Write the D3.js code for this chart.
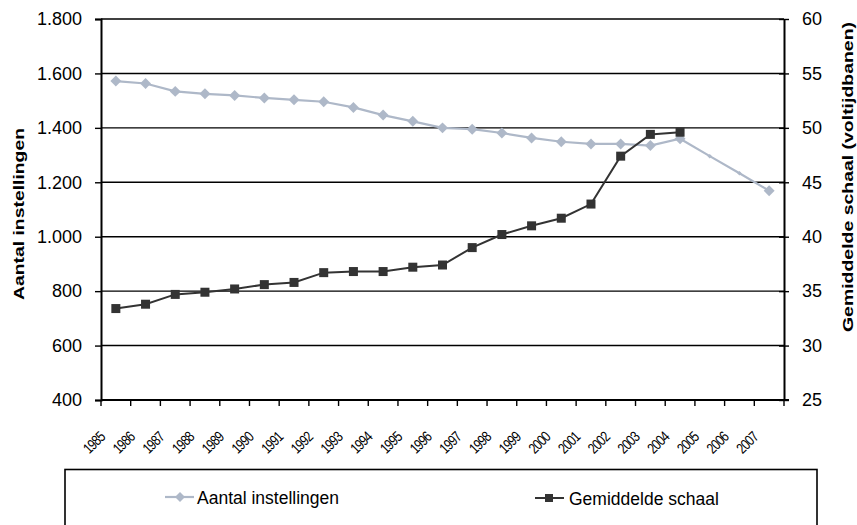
<!DOCTYPE html>
<html>
<head>
<meta charset="utf-8">
<script src="https://cdn.jsdelivr.net/npm/d3@7/dist/d3.min.js"></script>
<style>
  html, body { margin: 0; padding: 0; background: #fff; }
  svg { display: block; font-family: Arial, "Liberation Sans", sans-serif; }
</style>
</head>
<body>
<svg id="chart" width="857" height="525"></svg>
<script>
// Years on the category axis
const years = ["1985","1986","1987","1988","1989","1990","1991","1992","1993","1994","1995","1996",
               "1997","1998","1999","2000","2001","2002","2003","2004","2005","2006","2007"];

// Number of institutions (left axis)
const aantalInstellingen = [1572, 1563, 1534, 1525, 1519, 1510, 1503, 1496, 1475, 1447, 1424, 1400,
                            1395, 1381, 1363, 1349, 1341, 1341, 1335, 1360, 1296, 1233, 1169];

// Average scale in full-time jobs (right axis), available up to 2004
const gemiddeldeSchaal = [33.4, 33.8, 34.7, 34.9, 35.2, 35.6, 35.8, 36.7, 36.8, 36.8, 37.2, 37.4,
                          39.0, 40.2, 41.0, 41.7, 43.0, 47.4, 49.4, 49.6];

// Years drawn as plain line vertices without a full marker
const zonderMarker = ["2005", "2006"];

// Axis ticks
const leftTicks = [400, 600, 800, 1000, 1200, 1400, 1600, 1800];
const rightTicks = [25, 30, 35, 40, 45, 50, 55, 60];

const svg = d3.select("#chart");
const plotL = 101, plotR = 784, plotT = 19, plotB = 400;

const x = d3.scaleBand().domain(years).range([plotL, plotR]);
const yL = d3.scaleLinear().domain([400, 1800]).range([plotB, plotT]);
const yR = d3.scaleLinear().domain([25, 60]).range([plotB, plotT]);
const cx = d => x(d) + x.bandwidth() / 2;

const nl = d3.formatLocale({decimal: ",", thousands: ".", grouping: [3], currency: ["€", ""]});
const fmt = nl.format(",");

// Horizontal gridlines
svg.append("g")
  .selectAll("line")
  .data(leftTicks)
  .join("line")
  .attr("x1", plotL).attr("x2", plotR)
  .attr("y1", d => yL(d)).attr("y2", d => yL(d))
  .attr("stroke", "#000").attr("stroke-width", 1.4);

// Left axis
const gL = svg.append("g").attr("transform", `translate(${plotL},0)`)
  .call(d3.axisLeft(yL).tickValues(leftTicks).tickFormat(fmt).tickSize(6).tickPadding(13));
gL.select(".domain").attr("stroke", "#000").attr("stroke-width", 2);
gL.selectAll(".tick line").attr("stroke", "#000").attr("stroke-width", 1.4);
gL.selectAll(".tick text").attr("font-size", 18).attr("fill", "#000")
  .attr("font-family", "Arial, 'Liberation Sans', sans-serif");

// Right axis
const gR = svg.append("g").attr("transform", `translate(${plotR},0)`)
  .call(d3.axisRight(yR).tickValues(rightTicks).tickSizeInner(5).tickSizeOuter(0).tickPadding(13));
gR.select(".domain").attr("stroke", "#000").attr("stroke-width", 2);
gR.selectAll(".tick line").attr("x1", -5).attr("stroke", "#000").attr("stroke-width", 1.4);
gR.selectAll(".tick text").attr("font-size", 18).attr("fill", "#000")
  .attr("font-family", "Arial, 'Liberation Sans', sans-serif");

// Bottom axis: line, ticks on category boundaries, rotated year labels
const gB = svg.append("g").attr("transform", `translate(0,${plotB})`);
gB.append("line").attr("x1", plotL).attr("x2", plotR + 5).attr("stroke", "#000").attr("stroke-width", 2);
gB.selectAll("line.tk")
  .data(years.map(d => x(d)).concat([plotR]))
  .join("line").attr("class", "tk")
  .attr("x1", d => d).attr("x2", d => d).attr("y1", 0).attr("y2", 6)
  .attr("stroke", "#000").attr("stroke-width", 1.4);
gB.selectAll("text")
  .data(years)
  .join("text")
  .attr("transform", d => `translate(${cx(d) - 10},38) rotate(-45) scale(0.8,1)`)
  .attr("text-anchor", "end")
  .attr("font-size", 15)
  .attr("letter-spacing", -1)
  .text(d => d);

// Line for number of institutions
const grey = "#aeb8c8";
const lineL = d3.line().x((d, i) => cx(years[i])).y(d => yL(d));
svg.append("path").datum(aantalInstellingen)
  .attr("d", lineL).attr("fill", "none").attr("stroke", grey).attr("stroke-width", 2.2);
svg.append("g").selectAll("path")
  .data(aantalInstellingen.map((v, i) => ({year: years[i], v})))
  .join("path")
  .attr("transform", d => `translate(${cx(d.year)},${yL(d.v)}) rotate(45)`)
  .attr("d", d => d3.symbol().type(d3.symbolSquare).size(zonderMarker.includes(d.year) ? 10 : 60)())
  .attr("fill", grey);

// Line for average scale
const dark = "#333333";
const lineR = d3.line().x((d, i) => cx(years[i])).y(d => yR(d));
svg.append("path").datum(gemiddeldeSchaal)
  .attr("d", lineR).attr("fill", "none").attr("stroke", dark).attr("stroke-width", 2);
svg.append("g").selectAll("rect")
  .data(gemiddeldeSchaal.map((v, i) => ({year: years[i], v})))
  .join("rect")
  .attr("x", d => cx(d.year) - 4.5)
  .attr("y", d => yR(d.v) - 4.5)
  .attr("width", 9).attr("height", 9)
  .attr("fill", dark);

// Axis titles
svg.append("text")
  .attr("transform", `translate(24,214) rotate(-90)`)
  .attr("text-anchor", "middle")
  .attr("font-size", 15).attr("font-weight", "bold")
  .attr("textLength", 172).attr("lengthAdjust", "spacingAndGlyphs")
  .text("Aantal instellingen");
svg.append("text")
  .attr("transform", `translate(853,177) rotate(-90)`)
  .attr("text-anchor", "middle")
  .attr("font-size", 15).attr("font-weight", "bold")
  .attr("textLength", 310).attr("lengthAdjust", "spacingAndGlyphs")
  .text("Gemiddelde schaal (voltijdbanen)");

// Legend
const lg = svg.append("g");
lg.append("rect").attr("x", 65).attr("y", 469.5).attr("width", 752).attr("height", 80)
  .attr("fill", "#fff").attr("stroke", "#000").attr("stroke-width", 1.6);
lg.append("line").attr("x1", 165).attr("x2", 194).attr("y1", 497).attr("y2", 497)
  .attr("stroke", grey).attr("stroke-width", 2.2);
lg.append("path").attr("transform", "translate(180,497) rotate(45)")
  .attr("d", d3.symbol().type(d3.symbolSquare).size(50)()).attr("fill", grey);
lg.append("text").attr("x", 197).attr("y", 504).attr("font-size", 17.5).text("Aantal instellingen");
lg.append("line").attr("x1", 535).attr("x2", 564).attr("y1", 498).attr("y2", 498)
  .attr("stroke", dark).attr("stroke-width", 2);
lg.append("rect").attr("x", 545).attr("y", 494).attr("width", 8).attr("height", 8).attr("fill", dark);
lg.append("text").attr("x", 569).attr("y", 505).attr("font-size", 17.5).text("Gemiddelde schaal");
</script>
</body>
</html>
